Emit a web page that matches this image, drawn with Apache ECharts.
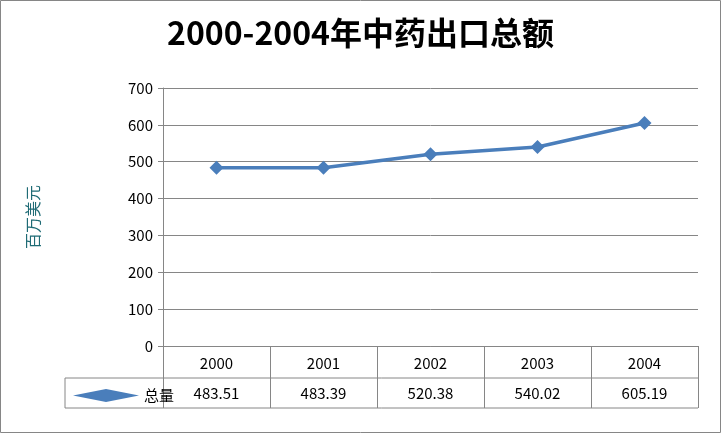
<!DOCTYPE html>
<html><head><meta charset="utf-8">
<script src="https://cdn.jsdelivr.net/npm/echarts@6/dist/echarts.min.js"></script>
<style>html,body{margin:0;padding:0;background:#fff}#main{width:721px;height:433px}</style>
</head><body><div id="main"></div>
<script>
// 数据
const years = ['2000', '2001', '2002', '2003', '2004'];
const totals = [483.51, 483.39, 520.38, 540.02, 605.19];
const seriesName = '总量';

const chart = echarts.init(document.getElementById('main'));
const grey = '#868686';
const option = {
  backgroundColor: '#fff',
  textStyle: {fontFamily: 'Noto Sans CJK SC, Liberation Sans, sans-serif'},
  title: {
    text: '2000-2004年中药出口总额', left: 'center', top: 12,
    textStyle: {fontSize: 32, fontWeight: 'bold', color: '#000'}
  },
  legend: {
    data: [{name: seriesName, icon: 'diamond'}], left: 68, top: 383, itemWidth: 66, itemHeight: 13, itemGap: 6,
    textStyle: {fontSize: 15, color: '#000'},
    itemStyle: {color: '#4a7ebb'},
    lineStyle: {width: 3.5, color: '#4a7ebb'}
  },
  grid: {left: 163, right: 23, top: 88, bottom: 87},
  xAxis: [{
    type: 'category', data: years, position: 'bottom',
    axisLine: {lineStyle: {color: grey}},
    axisTick: {show: true, length: 62, lineStyle: {color: grey}},
    axisLabel: {fontSize: 15, color: '#000', margin: 10}
  }, {
    type: 'category', data: totals.map(v => v.toFixed(2)), position: 'bottom', offset: 32,
    axisLine: {show: false}, axisTick: {show: false},
    axisLabel: {fontSize: 15, color: '#000', margin: 8}
  }],
  yAxis: {
    type: 'value', min: 0, max: 700, interval: 100,
    name: '百万美元', nameLocation: 'middle', nameRotate: 90, nameGap: 122,
    nameTextStyle: {fontSize: 16, color: '#1f6b75'},
    axisLine: {show: true, lineStyle: {color: grey}},
    axisTick: {show: true, length: 5, lineStyle: {color: grey}},
    axisLabel: {fontSize: 15, color: '#000', margin: 10},
    splitLine: {lineStyle: {color: grey}}
  },
  series: [{
    name: seriesName, type: 'line', data: totals, xAxisIndex: 0,
    symbol: 'diamond', symbolSize: 14,
    lineStyle: {color: '#4a7ebb', width: 3.5},
    itemStyle: {color: '#4a7ebb'}
  }],
  graphic: [
    {type: 'rect', shape: {x: 0.5, y: 0.5, width: 720, height: 432}, style: {fill: 'none', stroke: grey, lineWidth: 1}},
    {type: 'line', shape: {x1: 65, y1: 378, x2: 698, y2: 378}, style: {stroke: grey, lineWidth: 1}},
    {type: 'line', shape: {x1: 65, y1: 408, x2: 698, y2: 408}, style: {stroke: grey, lineWidth: 1}},
    {type: 'line', shape: {x1: 65, y1: 378, x2: 65, y2: 408}, style: {stroke: grey, lineWidth: 1}}
  ]
};
chart.setOption(option);
</script></body></html>
